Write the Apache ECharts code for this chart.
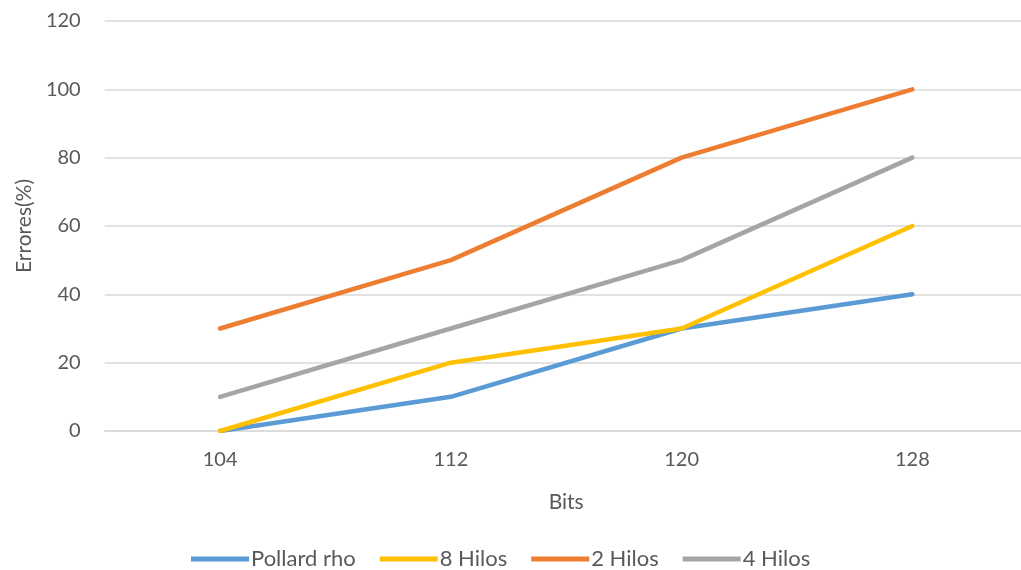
<!DOCTYPE html>
<html>
<head>
<meta charset="utf-8">
<script src="https://cdn.jsdelivr.net/npm/echarts@6/dist/echarts.min.js"></script>
<style>
  html, body { margin: 0; padding: 0; background: #fff; overflow: hidden; }
  #chart { width: 1030px; height: 570px; }
</style>
</head>
<body>
<div id="chart"></div>
<script>
const categories = ['104', '112', '120', '128'];
const pollardRho = [0, 10, 30, 40];
const hilos8 = [0, 20, 30, 60];
const hilos2 = [30, 50, 80, 100];
const hilos4 = [10, 30, 50, 80];

const textColor = '#595959';
const fontFamily = 'Lato, "Open Sans", sans-serif';

function lineSeries(name, data, color) {
  return {
    name: name,
    type: 'line',
    data: data,
    symbol: 'none',
    lineStyle: { width: 4.5, color: color, cap: 'round', join: 'round' },
    itemStyle: { color: color }
  };
}

const chart = echarts.init(document.getElementById('chart'));
chart.setOption({
  animation: false,
  textStyle: { fontFamily: fontFamily, color: textColor },
  // plot area runs slightly past the visible right edge
  grid: { left: 104.7, right: 2.3, top: 21, height: 410 },
  legend: {
    top: 543,
    left: 186,
    icon: 'rect',
    itemWidth: 58,
    itemHeight: 5,
    itemGap: 24,
    textStyle: { fontSize: 22, color: textColor, fontFamily: fontFamily, padding: [0, 0, 0, -3] },
    data: ['Pollard rho', '8 Hilos', '2 Hilos', '4 Hilos']
  },
  xAxis: {
    type: 'category',
    data: categories,
    name: 'Bits',
    nameLocation: 'middle',
    nameGap: 61,
    nameTextStyle: { fontSize: 21, color: textColor, fontFamily: fontFamily },
    axisLine: { lineStyle: { color: '#d9d9d9', width: 1.5 } },
    axisTick: { show: false },
    axisLabel: { fontSize: 20, color: textColor, margin: 19 }
  },
  yAxis: {
    type: 'value',
    min: 0,
    max: 120,
    interval: 20,
    name: 'Errores(%)',
    nameLocation: 'middle',
    nameGap: 68,
    nameRotate: 90,
    nameTextStyle: { fontSize: 21, color: textColor, fontFamily: fontFamily },
    axisLine: { show: false },
    axisTick: { show: false },
    axisLabel: { fontSize: 20, color: textColor, margin: 24 },
    splitLine: { lineStyle: { color: '#d9d9d9', width: 1.5 } }
  },
  series: [
    lineSeries('Pollard rho', pollardRho, '#5B9BD5'),
    lineSeries('8 Hilos', hilos8, '#FFC000'),
    lineSeries('2 Hilos', hilos2, '#ED7D31'),
    lineSeries('4 Hilos', hilos4, '#A5A5A5')
  ]
});
</script>
</body>
</html>
